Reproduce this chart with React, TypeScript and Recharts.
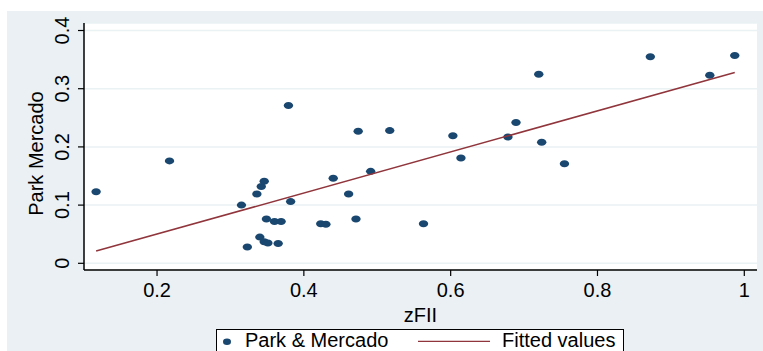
import React from 'react';
import { ScatterChart, Scatter, XAxis, YAxis, CartesianGrid, Legend } from 'recharts';

// values (zFII vs Park & Mercado)
const zfii = [
  0.117, 0.217, 0.315, 0.323, 0.336, 0.34, 0.342, 0.346, 0.346, 0.349, 0.351, 0.36,
  0.365, 0.369, 0.379, 0.382, 0.423, 0.43, 0.44, 0.461, 0.471, 0.474, 0.491, 0.517,
  0.563, 0.603, 0.614, 0.678, 0.689, 0.72, 0.724, 0.755, 0.872, 0.953, 0.987,
];
const parkMercado = [
  0.123, 0.176, 0.1, 0.028, 0.119, 0.045, 0.132, 0.141, 0.037, 0.076, 0.035, 0.072,
  0.034, 0.072, 0.271, 0.106, 0.068, 0.067, 0.146, 0.119, 0.076, 0.227, 0.158, 0.228,
  0.068, 0.219, 0.181, 0.217, 0.242, 0.325, 0.208, 0.171, 0.355, 0.323, 0.357,
];
const fittedX = [0.117, 0.987];
const fittedY = [0.021, 0.328];

const xTicks = [0.2, 0.4, 0.6, 0.8, 1];
const xTickLabels = ['0.2', '0.4', '0.6', '0.8', '1'];
const yTicks = [0, 0.1, 0.2, 0.3, 0.4];
const yTickLabels = ['0', '0.1', '0.2', '0.3', '0.4'];

const NAVY = '#1a476f';
const MAROON = '#90353b';
const FONT = '"Liberation Sans", Arial, sans-serif';

const points = zfii.map((x, i) => ({ x, y: parkMercado[i] }));
const fitted = fittedX.map((x, i) => ({ x, y: fittedY[i] }));

const Dot = (props: any) => <ellipse cx={props.cx} cy={props.cy} rx={4.7} ry={3.5} fill={NAVY} />;
const NoDot = () => <g />;

const XTick = (props: any) => {
  const i = xTicks.indexOf(props.payload.value);
  return (
    <text x={props.x} y={props.y} dy={19} textAnchor="middle" fontSize={20} fontFamily={FONT} fill="#000">
      {xTickLabels[i]}
    </text>
  );
};

const YTick = (props: any) => {
  const i = yTicks.indexOf(props.payload.value);
  const tx = 62;
  return (
    <text
      x={tx}
      y={props.y}
      transform={`rotate(-90, ${tx}, ${props.y})`}
      textAnchor="middle"
      dominantBaseline="central"
      fontSize={20}
      fontFamily={FONT}
      fill="#000"
    >
      {yTickLabels[i]}
    </text>
  );
};

const LegendBox = () => (
  <svg width={408} height={30} style={{ display: 'block' }}>
    <rect x={0.5} y={0.5} width={407} height={40} fill="#fff" stroke="#000" strokeWidth={1} />
    <ellipse cx={11} cy={12.7} rx={4} ry={3.2} fill={NAVY} />
    <text x={29} y={18} fontSize={20} fontFamily={FONT} fill="#000">Park &amp; Mercado</text>
    <line x1={202} x2={274} y1={12.3} y2={12.3} stroke={MAROON} strokeWidth={1.3} />
    <text x={286} y={18} fontSize={20} fontFamily={FONT} fill="#000">Fitted values</text>
  </svg>
);

export default function App() {
  return (
    <div style={{ position: 'absolute', left: 0, top: 0, width: 763, height: 351, background: '#fff', overflow: 'hidden' }}>
      <div style={{ position: 'absolute', left: 7, top: 11, width: 756, height: 340, background: '#eaf0f3' }} />
      <div style={{ position: 'absolute', left: 0, top: 0 }}>
        <ScatterChart width={763} height={351} margin={{ top: 23, right: 6, left: 24, bottom: 41 }}>
          <CartesianGrid vertical={false} fill="#fff" stroke="#eaf2f3" strokeWidth={1.5} />
          <XAxis
            type="number"
            dataKey="x"
            domain={[0.1005, 1.0173]}
            allowDataOverflow
            ticks={xTicks}
            height={40}
            tickSize={6}
            tickMargin={2}
            tick={<XTick />}
            axisLine={{ stroke: '#000', strokeWidth: 1.5 }}
            tickLine={{ stroke: '#000', strokeWidth: 1.2 }}
            label={(p: any) => {
              const vb = p.viewBox || { x: 84, y: 270, width: 673, height: 40 };
              return (
                <text x={vb.x + vb.width / 2} y={vb.y + 52} textAnchor="middle" fontSize={20} fontFamily={FONT} fill="#000">
                  zFII
                </text>
              );
            }}
          />
          <YAxis
            type="number"
            dataKey="y"
            domain={[-0.0115, 0.4129]}
            allowDataOverflow
            ticks={yTicks}
            width={60}
            tickSize={6}
            tick={<YTick />}
            axisLine={{ stroke: '#000', strokeWidth: 1.5 }}
            tickLine={{ stroke: '#000', strokeWidth: 1.2 }}
            label={(p: any) => {
              const vb = p.viewBox || { x: 24, y: 23, width: 60, height: 247 };
              const cx = 36;
              const cy = vb.y + vb.height / 2 + 7;
              return (
                <text
                  x={cx}
                  y={cy}
                  transform={`rotate(-90, ${cx}, ${cy})`}
                  textAnchor="middle"
                  dominantBaseline="central"
                  fontSize={20}
                  fontFamily={FONT}
                  fill="#000"
                >
                  Park Mercado
                </text>
              );
            }}
          />
          <Scatter name="Park & Mercado" data={points} shape={Dot} isAnimationActive={false} />
          <Scatter
            name="Fitted values"
            data={fitted}
            shape={NoDot}
            line={{ stroke: MAROON, strokeWidth: 1.5 }}
            isAnimationActive={false}
          />
          <Legend
            layout="vertical"
            align="center"
            verticalAlign="middle"
            content={() => <LegendBox />}
            wrapperStyle={{ position: 'absolute', left: 216, top: 329, width: 408, height: 30 }}
          />
        </ScatterChart>
      </div>
    </div>
  );
}
